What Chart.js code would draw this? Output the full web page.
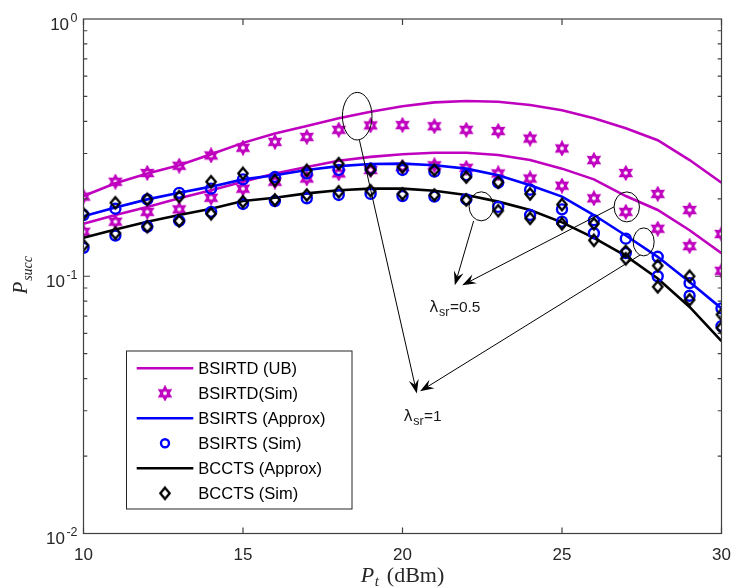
<!DOCTYPE html>
<html>
<head>
<meta charset="utf-8">
<script src="https://cdn.jsdelivr.net/npm/chart.js@4.4.1/dist/chart.umd.min.js"></script>
<style>
html, body { margin: 0; padding: 0; background: #fff; }
</style>
</head>
<body>
<canvas id="myChart" width="733" height="587"></canvas>
<script>
// transmit power Pt (dBm)
const pt = [10, 11, 12, 13, 14, 15, 16, 17, 18, 19, 20, 21, 22, 23, 24, 25, 26, 27, 28, 29, 30];
const xTicks = [10, 15, 20, 25, 30];
const yTicks = [1, 0.1, 0.01];
const yTickLabels = [['10', '0'], ['10', '-1'], ['10', '-2']];

// lambda_sr = 1
const ubL1 = [0.205, 0.230, 0.251, 0.270, 0.298, 0.330, 0.359, 0.384, 0.411, 0.436, 0.458, 0.474, 0.480, 0.477, 0.463, 0.442, 0.411, 0.376, 0.338, 0.283, 0.231];
const simTdL1 = [0.204, 0.233, 0.252, 0.269, 0.295, 0.316, 0.333, 0.348, 0.371, 0.386, 0.387, 0.383, 0.371, 0.367, 0.343, 0.314, 0.283, 0.252, 0.209, 0.181, 0.146];
const apxTsL1 = [0.171, 0.185, 0.199, 0.211, 0.223, 0.238, 0.247, 0.259, 0.268, 0.273, 0.274, 0.270, 0.262, 0.247, 0.226, 0.204, 0.173, 0.144, 0.119, 0.095, 0.075];
const simTsL1 = [0.173, 0.183, 0.199, 0.211, 0.219, 0.238, 0.243, 0.251, 0.259, 0.262, 0.259, 0.255, 0.247, 0.231, 0.217, 0.182, 0.165, 0.140, 0.119, 0.094, 0.075];
const simCcL1 = [0.175, 0.193, 0.199, 0.204, 0.233, 0.251, 0.236, 0.258, 0.274, 0.259, 0.266, 0.259, 0.243, 0.232, 0.209, 0.190, 0.160, 0.125, 0.110, 0.100, 0.071];

// lambda_sr = 0.5
const ubL05 = [0.160, 0.173, 0.186, 0.201, 0.216, 0.233, 0.251, 0.266, 0.281, 0.291, 0.298, 0.302, 0.302, 0.296, 0.283, 0.262, 0.238, 0.205, 0.181, 0.151, 0.123];
const simTdL05 = [0.149, 0.163, 0.178, 0.182, 0.202, 0.219, 0.233, 0.240, 0.251, 0.259, 0.266, 0.270, 0.264, 0.251, 0.240, 0.225, 0.201, 0.178, 0.153, 0.131, 0.105];
const apxCcL05 = [0.141, 0.152, 0.163, 0.173, 0.183, 0.196, 0.202, 0.210, 0.216, 0.219, 0.219, 0.215, 0.207, 0.195, 0.181, 0.162, 0.141, 0.120, 0.098, 0.076, 0.056];
const simTsL05 = [0.129, 0.144, 0.156, 0.164, 0.178, 0.191, 0.196, 0.201, 0.207, 0.209, 0.205, 0.204, 0.199, 0.186, 0.173, 0.163, 0.147, 0.123, 0.100, 0.084, 0.064];
const simCcL05 = [0.132, 0.147, 0.156, 0.164, 0.175, 0.195, 0.198, 0.207, 0.213, 0.215, 0.209, 0.207, 0.198, 0.180, 0.168, 0.160, 0.138, 0.117, 0.091, 0.081, 0.063];

const legendLabels = ['BSIRTD (UB)', 'BSIRTD(Sim)', 'BSIRTS (Approx)', 'BSIRTS (Sim)', 'BCCTS (Approx)', 'BCCTS (Sim)'];

// ellipses, arrows and texts in data units
const rings = [
    { x: 18.58, y: 0.419, rx: 14.8, ry: 23.8 },
    { x: 22.47, y: 0.187, rx: 12.2, ry: 14.5 },
    { x: 27.03, y: 0.186, rx: 12.7, ry: 15 },
    { x: 27.56, y: 0.136, rx: 10.5, ry: 14 }
];
const arrows = [
    { x0: 18.65, y0: 0.338, x1: 20.45, y1: 0.0350 },
    { x0: 27.45, y0: 0.121, x1: 20.55, y1: 0.0357 },
    { x0: 22.23, y0: 0.164, x1: 21.64, y1: 0.0922 },
    { x0: 26.63, y0: 0.186, x1: 21.87, y1: 0.0922 }
];
const notes = [
    { x: 20.84, y: 0.0727, value: '0.5' },
    { x: 20.03, y: 0.0273, value: '1' }
];

const MAG = '#bf00bf';
const BLUE = '#0000ff';
const BLK = '#000000';
const AXIS = '#404040';

function hexagram(color) {
    const c = document.createElement('canvas');
    c.width = 16; c.height = 16;
    const g = c.getContext('2d');
    g.beginPath();
    for (let i = 0; i < 12; i++) {
        const a = -Math.PI / 2 + i * Math.PI / 6;
        const r = i % 2 ? 3.1 : 5.5;
        g.lineTo(8 + r * Math.cos(a), 8 + r * Math.sin(a));
    }
    g.closePath();
    g.strokeStyle = color;
    g.lineWidth = 2.8;
    g.lineJoin = 'miter';
    g.stroke();
    return c;
}

function diamond(color) {
    const c = document.createElement('canvas');
    c.width = 16; c.height = 16;
    const g = c.getContext('2d');
    g.beginPath();
    g.moveTo(8, 2.4); g.lineTo(12.7, 8); g.lineTo(8, 13.6); g.lineTo(3.3, 8);
    g.closePath();
    g.strokeStyle = color;
    g.lineWidth = 2.3;
    g.stroke();
    return c;
}

const starStyle = hexagram(MAG);
const diamondStyle = diamond(BLK);

function pts(arr) {
    return pt.map(function (x, i) { return { x: x, y: arr[i] }; });
}

function lineSet(label, arr, color, order) {
    return {
        label: label, data: pts(arr), borderColor: color, backgroundColor: color,
        borderWidth: 2.6, pointRadius: 0, fill: false, tension: 0, order: order
    };
}

function markSet(label, arr, style, color, order) {
    return {
        label: label, data: pts(arr), showLine: false, order: order,
        pointStyle: style, pointRadius: 5, pointBorderWidth: 2.4,
        pointBorderColor: color, pointBackgroundColor: 'rgba(0,0,0,0)',
        borderColor: color, backgroundColor: 'rgba(0,0,0,0)'
    };
}

function ySup(ctx, main, sup, xr, y) {
    ctx.font = '17px "Liberation Sans", Arial, sans-serif';
    const wm = ctx.measureText(main).width;
    ctx.font = '12.5px "Liberation Sans", Arial, sans-serif';
    const ws = ctx.measureText(sup).width;
    ctx.textAlign = 'left';
    ctx.textBaseline = 'alphabetic';
    ctx.fillText(sup, xr - ws, y + 2.5);
    ctx.font = '17px "Liberation Sans", Arial, sans-serif';
    ctx.fillText(main, xr - ws - wm - 1.5, y + 10.5);
}

const overlay = {
    id: 'overlay',
    afterDatasetsDraw: function (chart) {
        const ctx = chart.ctx;
        const a = chart.chartArea;
        const xs = chart.scales.x;
        const ys = chart.scales.y;
        ctx.save();

        // axes box and inward ticks
        ctx.strokeStyle = AXIS;
        ctx.lineWidth = 1.2;
        ctx.strokeRect(a.left, a.top, a.right - a.left, a.bottom - a.top);
        ctx.beginPath();
        xTicks.forEach(function (v) {
            const px = xs.getPixelForValue(v);
            ctx.moveTo(px, a.bottom); ctx.lineTo(px, a.bottom - 6);
            ctx.moveTo(px, a.top); ctx.lineTo(px, a.top + 6);
        });
        for (let k = -2; k < 0; k++) {
            for (let m = 1; m <= 9; m++) {
                const py = ys.getPixelForValue(m * Math.pow(10, k));
                const len = m === 1 ? 6.5 : 3.8;
                ctx.moveTo(a.left, py); ctx.lineTo(a.left + len, py);
                ctx.moveTo(a.right, py); ctx.lineTo(a.right - len, py);
            }
        }
        ctx.stroke();

        // y tick labels with exponents
        ctx.fillStyle = '#262626';
        yTicks.forEach(function (v, i) {
            ySup(ctx, yTickLabels[i][0], yTickLabels[i][1], 77.5, ys.getPixelForValue(v));
        });

        // axis titles
        ctx.fillStyle = '#262626';
        ctx.textBaseline = 'alphabetic';
        ctx.textAlign = 'left';
        const serif = '"Liberation Serif", "DejaVu Serif", serif';
        ctx.font = 'italic 22px ' + serif;
        const wP = ctx.measureText('P').width;
        ctx.font = 'italic 15px ' + serif;
        const wt = ctx.measureText('t').width;
        ctx.font = '22px ' + serif;
        const wd = ctx.measureText(' (dBm)').width;
        let x0 = (a.left + a.right) / 2 - (wP + wt + 3 + wd) / 2;
        ctx.font = 'italic 22px ' + serif;
        ctx.fillText('P', x0, 582);
        ctx.font = 'italic 15px ' + serif;
        ctx.fillText('t', x0 + wP + 0.5, 586);
        ctx.font = '22px ' + serif;
        ctx.fillText(' (dBm)', x0 + wP + wt + 3, 582);

        ctx.save();
        ctx.translate(27, 275);
        ctx.rotate(-Math.PI / 2);
        ctx.font = 'italic 14px ' + serif;
        const ws = ctx.measureText('succ').width;
        ctx.font = 'italic 20px ' + serif;
        const wP2 = ctx.measureText('P').width;
        const s0 = -(wP2 + ws + 1) / 2;
        ctx.fillText('P', s0, 0);
        ctx.font = 'italic 14px ' + serif;
        ctx.fillText('succ', s0 + wP2 + 1, 5);
        ctx.restore();

        // ellipses
        ctx.strokeStyle = BLK;
        ctx.lineWidth = 1;
        rings.forEach(function (r) {
            ctx.beginPath();
            ctx.ellipse(xs.getPixelForValue(r.x), ys.getPixelForValue(r.y), r.rx, r.ry, 0, 0, Math.PI * 2);
            ctx.stroke();
        });

        // arrows
        ctx.fillStyle = BLK;
        arrows.forEach(function (r) {
            const px0 = xs.getPixelForValue(r.x0), py0 = ys.getPixelForValue(r.y0);
            const px1 = xs.getPixelForValue(r.x1), py1 = ys.getPixelForValue(r.y1);
            const ang = Math.atan2(py1 - py0, px1 - px0);
            const L = 14, W = 5, N = 9;
            const ux = Math.cos(ang), uy = Math.sin(ang);
            ctx.beginPath();
            ctx.moveTo(px0, py0);
            ctx.lineTo(px1 - ux * N, py1 - uy * N);
            ctx.stroke();
            ctx.beginPath();
            ctx.moveTo(px1, py1);
            ctx.lineTo(px1 - ux * L - uy * W, py1 - uy * L + ux * W);
            ctx.lineTo(px1 - ux * N, py1 - uy * N);
            ctx.lineTo(px1 - ux * L + uy * W, py1 - uy * L - ux * W);
            ctx.closePath();
            ctx.fill();
        });

        // lambda notes
        ctx.fillStyle = '#1a1a1a';
        notes.forEach(function (n) {
            const px = xs.getPixelForValue(n.x), py = ys.getPixelForValue(n.y);
            ctx.font = '15.5px "DejaVu Sans", sans-serif';
            ctx.fillText('\u03bb', px, py);
            const wl = ctx.measureText('\u03bb').width;
            ctx.font = '12.5px "Liberation Sans", Arial, sans-serif';
            ctx.fillText('sr', px + wl + 0.5, py + 4);
            const wsr = ctx.measureText('sr').width;
            ctx.font = '15.5px "Liberation Sans", Arial, sans-serif';
            ctx.fillText('=' + n.value, px + wl + wsr + 1, py);
        });

        // legend
        const lx = a.left + 43, ly = a.top + 332, lw = 225.5, lh = 158;
        ctx.fillStyle = '#ffffff';
        ctx.fillRect(lx, ly, lw, lh);
        ctx.strokeStyle = '#262626';
        ctx.lineWidth = 1;
        ctx.strokeRect(lx, ly, lw, lh);
        legendLabels.forEach(function (lab, i) {
            const ds = chart.data.datasets.find(function (d) { return d.label === lab; });
            const ry = ly + 17.3 + i * 25;
            if (ds.showLine === false) {
                const mx = lx + 38.5;
                if (ds.pointStyle === 'circle') {
                    ctx.beginPath();
                    ctx.arc(mx, ry, ds.pointRadius * 0.8, 0, Math.PI * 2);
                    ctx.strokeStyle = ds.pointBorderColor;
                    ctx.lineWidth = ds.pointBorderWidth;
                    ctx.stroke();
                } else {
                    ctx.drawImage(ds.pointStyle, mx - ds.pointStyle.width / 2, ry - ds.pointStyle.height / 2);
                }
            } else {
                ctx.beginPath();
                ctx.moveTo(lx + 10.2, ry);
                ctx.lineTo(lx + 66.8, ry);
                ctx.strokeStyle = ds.borderColor;
                ctx.lineWidth = ds.borderWidth;
                ctx.stroke();
            }
            ctx.fillStyle = BLK;
            ctx.font = '16.5px "Liberation Sans", Arial, sans-serif';
            ctx.textBaseline = 'middle';
            ctx.fillText(lab, lx + 71.8, ry + 1);
            ctx.textBaseline = 'alphabetic';
        });

        ctx.restore();
    }
};

window.onload = function () {
    new Chart(document.getElementById('myChart'), {
        type: 'line',
        data: {
            datasets: [
                markSet('BCCTS (Sim)', simCcL1, diamondStyle, BLK, 1),
                markSet('BCCTS (Sim)', simCcL05, diamondStyle, BLK, 1),
                markSet('BSIRTS (Sim)', simTsL1, 'circle', BLUE, 2),
                markSet('BSIRTS (Sim)', simTsL05, 'circle', BLUE, 2),
                lineSet('BSIRTS (Approx)', apxTsL1, BLUE, 3),
                lineSet('BCCTS (Approx)', apxCcL05, BLK, 4),
                markSet('BSIRTD(Sim)', simTdL1, starStyle, MAG, 5),
                markSet('BSIRTD(Sim)', simTdL05, starStyle, MAG, 5),
                lineSet('BSIRTD (UB)', ubL1, MAG, 6),
                lineSet('BSIRTD (UB)', ubL05, MAG, 6)
            ]
        },
        options: {
            responsive: false,
            animation: false,
            events: [],
            layout: { padding: { top: 19, right: 11.5, left: 0, bottom: 0 } },
            plugins: {
                legend: { display: false },
                tooltip: { enabled: false }
            },
            scales: {
                x: {
                    type: 'linear',
                    min: 10,
                    max: 30,
                    ticks: {
                        stepSize: 5,
                        color: '#262626',
                        padding: 12,
                        font: { family: '"Liberation Sans", Arial, sans-serif', size: 17 }
                    },
                    grid: { display: false, drawTicks: false },
                    border: { display: false },
                    afterFit: function (s) {
                        s.height = 53.5;
                        s.paddingLeft = 0;
                        s.paddingRight = 0;
                    }
                },
                y: {
                    type: 'logarithmic',
                    min: 0.01,
                    max: 1,
                    ticks: { display: false },
                    grid: { display: false, drawTicks: false },
                    border: { display: false },
                    afterFit: function (s) { s.width = 83.5; }
                }
            }
        },
        plugins: [overlay]
    });
};
</script>
</body>
</html>
